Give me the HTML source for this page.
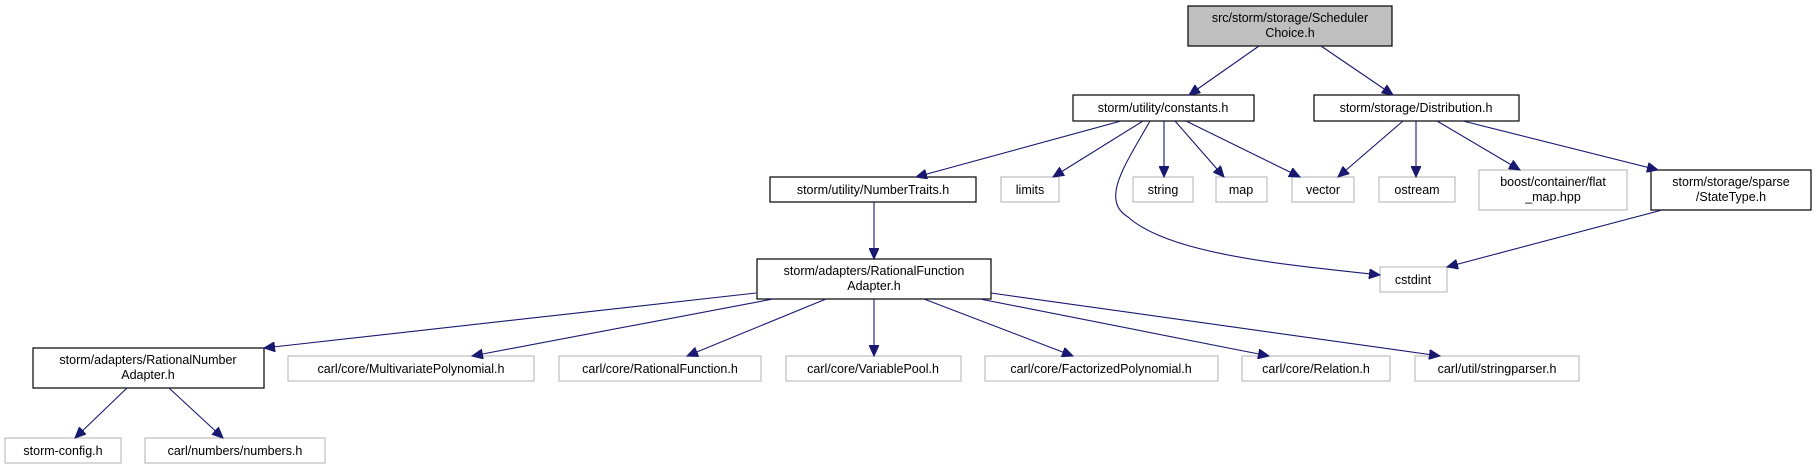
<!DOCTYPE html>
<html><head><meta charset="utf-8"><style>
html,body{margin:0;padding:0;background:#fff;}
svg{display:block;}
text{font-family:"Liberation Sans",sans-serif;font-size:12.5px;text-anchor:middle;fill:#000;}
.n{fill:#fff;stroke:#000;stroke-width:1.2;}
.g{fill:#fff;stroke:#bfbfbf;stroke-width:1.2;}
.e{fill:none;stroke:#191970;stroke-width:1.1;marker-end:url(#a);}
</style></head><body>
<svg width="1817" height="469" viewBox="0 0 1817 469" xmlns="http://www.w3.org/2000/svg">
<defs><marker id="a" markerUnits="userSpaceOnUse" markerWidth="12" markerHeight="10" refX="11" refY="5" orient="auto"><path d="M0,0 L11,5 L0,10 z" fill="#191970" stroke="#191970"/></marker></defs>

<rect x="1188" y="6" width="204" height="40" fill="#bfbfbf" stroke="#000" stroke-width="1.2"/>
<text x="1290" y="22">src/storm/storage/Scheduler</text><text x="1290" y="37">Choice.h</text>

<rect class="n" x="1073" y="95" width="181" height="26"/><text x="1163" y="112">storm/utility/constants.h</text>
<rect class="n" x="1314" y="95" width="205" height="26"/><text x="1416" y="112">storm/storage/Distribution.h</text>

<rect class="n" x="770" y="177" width="206" height="25"/><text x="873" y="194">storm/utility/NumberTraits.h</text>
<rect class="g" x="1001" y="177" width="58" height="25"/><text x="1030" y="194">limits</text>
<rect class="g" x="1133" y="177" width="60" height="25"/><text x="1163" y="194">string</text>
<rect class="g" x="1216" y="177" width="51" height="25"/><text x="1241" y="194">map</text>
<rect class="g" x="1292" y="177" width="62" height="25"/><text x="1323" y="194">vector</text>
<rect class="g" x="1379" y="177" width="76" height="25"/><text x="1417" y="194">ostream</text>
<rect class="g" x="1479" y="170" width="148" height="40"/><text x="1553" y="186">boost/container/flat</text><text x="1553" y="201">_map.hpp</text>
<rect class="n" x="1651" y="170" width="160" height="40"/><text x="1731" y="186">storm/storage/sparse</text><text x="1731" y="201">/StateType.h</text>

<rect class="g" x="1380" y="267" width="67" height="25"/><text x="1413" y="284">cstdint</text>
<rect class="n" x="757" y="259" width="234" height="40"/><text x="874" y="275">storm/adapters/RationalFunction</text><text x="874" y="290">Adapter.h</text>

<rect class="n" x="33" y="348" width="231" height="40"/><text x="148" y="364">storm/adapters/RationalNumber</text><text x="148" y="379">Adapter.h</text>
<rect class="g" x="288" y="356" width="246" height="25"/><text x="411" y="373">carl/core/MultivariatePolynomial.h</text>
<rect class="g" x="559" y="356" width="202" height="25"/><text x="660" y="373">carl/core/RationalFunction.h</text>
<rect class="g" x="786" y="356" width="175" height="25"/><text x="873" y="373">carl/core/VariablePool.h</text>
<rect class="g" x="985" y="356" width="233" height="25"/><text x="1101" y="373">carl/core/FactorizedPolynomial.h</text>
<rect class="g" x="1242" y="356" width="148" height="25"/><text x="1316" y="373">carl/core/Relation.h</text>
<rect class="g" x="1415" y="356" width="164" height="25"/><text x="1497" y="373">carl/util/stringparser.h</text>

<rect class="g" x="5" y="438" width="116" height="25"/><text x="63" y="455">storm-config.h</text>
<rect class="g" x="145" y="438" width="180" height="25"/><text x="235" y="455">carl/numbers/numbers.h</text>

<path class="e" d="M1259,46 L1189,95"/>
<path class="e" d="M1321,46 L1393,95"/>
<path class="e" d="M1121,121 L916,177"/>
<path class="e" d="M1143,121 L1053,177"/>
<path class="e" d="M1150,121 C1125,165 1100,200 1128,217 C1170,255 1290,265 1380,275"/>
<path class="e" d="M1164,121 L1164,177"/>
<path class="e" d="M1175,121 L1224,177"/>
<path class="e" d="M1186,121 L1300,177"/>
<path class="e" d="M1403,121 L1338,177"/>
<path class="e" d="M1416,121 L1416,177"/>
<path class="e" d="M1437,121 L1520,170"/>
<path class="e" d="M1463,121 L1658,170"/>
<path class="e" d="M1662,210 L1447,267"/>
<path class="e" d="M874,202 L874,259"/>
<path class="e" d="M756,293 L264,348"/>
<path class="e" d="M773,299 L472,356"/>
<path class="e" d="M826,299 L687,356"/>
<path class="e" d="M874,299 L874,356"/>
<path class="e" d="M924,299 L1073,356"/>
<path class="e" d="M980,299 L1269,356"/>
<path class="e" d="M991,293 L1440,356"/>
<path class="e" d="M127,388 L75,438"/>
<path class="e" d="M169,388 L223,438"/>
</svg>
</body></html>
